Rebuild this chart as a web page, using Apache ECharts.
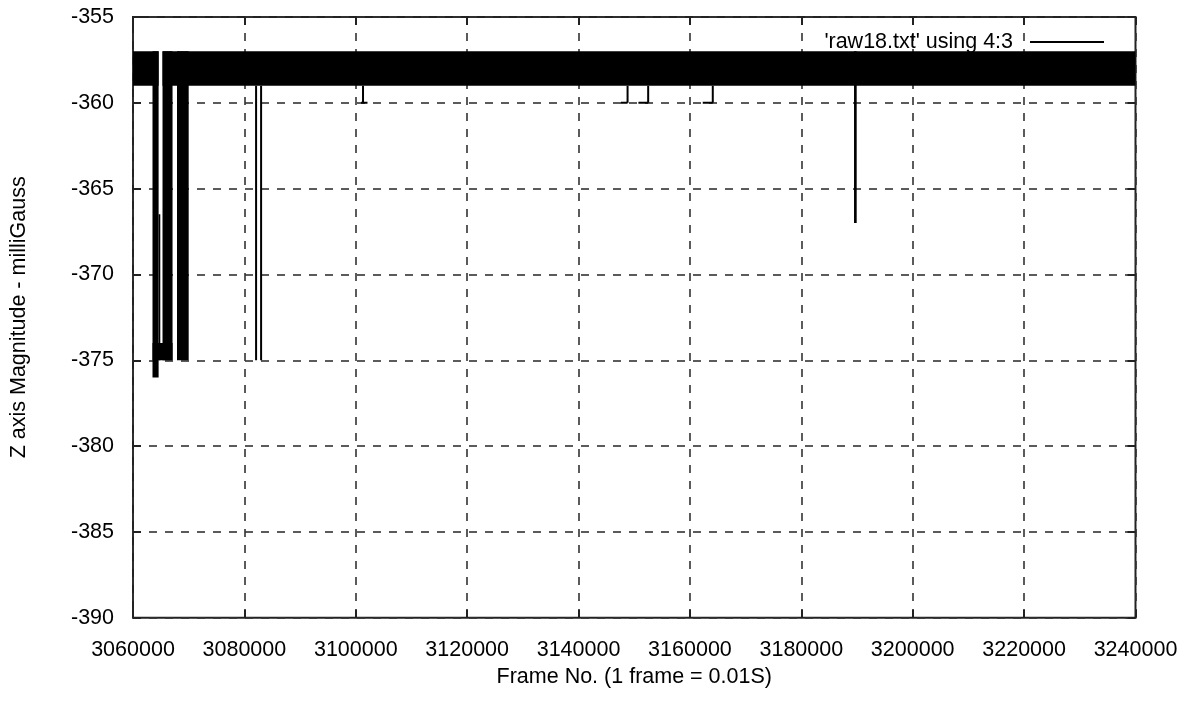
<!DOCTYPE html>
<html>
<head>
<meta charset="utf-8">
<script src="https://cdn.jsdelivr.net/npm/echarts@6/dist/echarts.min.js"></script>
<style>
html,body{margin:0;padding:0;background:#fff;}
#chart{width:1185px;height:711px;}
</style>
</head>
<body>
<div id="chart"></div>
<script>
// ---- data ----
const seriesName = "'raw18.txt' using 4:3";
const xTitle = "Frame No. (1 frame = 0.01S)";
const yTitle = "Z axis Magnitude - milliGauss";
const xTicks = [3060000, 3080000, 3100000, 3120000, 3140000, 3160000, 3180000, 3200000, 3220000, 3240000];
const yTicks = [-390, -385, -380, -375, -370, -365, -360, -355];

// dense oscillation envelopes: frame range and value range the trace fills
const envStart = [3060000, 3065300, 3063500, 3064600, 3063500, 3065300, 3067900, 3189460];
const envEnd   = [3064600, 3240000, 3064600, 3064900, 3067100, 3067100, 3070000, 3189940];
const envHigh  = [-357,    -357,    -357,    -366.5,  -374,    -357,    -357,    -357];
const envLow   = [-359,    -359,    -376,    -375,    -375,    -375,    -375,    -367];

// isolated trace segments (spikes and short flats)
const segX0 = [3082100, 3083000, 3101300, 3100950, 3148800, 3147600, 3152500, 3150750, 3164100, 3162300];
const segY0 = [-359,    -359,    -359,    -360,    -359,    -360,    -359,    -360,    -359,    -360];
const segX1 = [3082100, 3083000, 3101300, 3102100, 3148800, 3148800, 3152500, 3152500, 3164100, 3164100];
const segY1 = [-375,    -375,    -360,    -360,    -360,    -360,    -360,    -360,    -360,    -360];

// ---- build options ----
const envData = envStart.map((s, i) => [s, envEnd[i], envHigh[i], envLow[i]]);
const segData = segX0.map((x, i) => [x, segY0[i], segX1[i], segY1[i]]);

const xMin = xTicks[0], xMax = xTicks[xTicks.length - 1];
const yMin = yTicks[0], yMax = yTicks[yTicks.length - 1];
const xStep = xTicks[1] - xTicks[0];
const yStep = yTicks[1] - yTicks[0];

const FONT = 'Liberation Sans, Arial, sans-serif';
const FS = 21.5;
const INK = '#000';
const GRIDC = '#333';

const chart = echarts.init(document.getElementById('chart'), null, {renderer: 'canvas'});

const baseX = {
  type: 'value', min: xMin, max: xMax, interval: xStep
};
const baseY = {
  type: 'value', min: yMin, max: yMax, interval: yStep
};

chart.setOption({
  animation: false,
  backgroundColor: '#fff',
  grid: {
    left: 131, top: 17, right: 49.5, bottom: 93.3,
    show: true, borderColor: '#222', borderWidth: 2, backgroundColor: 'transparent'
  },
  legend: {
    show: true,
    data: [seriesName],
    right: 81, top: 31, padding: 0,
    align: 'right',
    icon: 'rect', itemWidth: 74, itemHeight: 2,
    itemStyle: {color: INK},
    formatter: n => n + '  ',
    textStyle: {fontFamily: FONT, fontSize: FS, color: INK}
  },
  xAxis: [
    Object.assign({}, baseX, {
      position: 'bottom',
      name: xTitle, nameLocation: 'middle', nameGap: 47,
      nameTextStyle: {fontFamily: FONT, fontSize: FS, color: INK},
      axisLine: {show: false},
      axisTick: {show: true, inside: true, length: 8, lineStyle: {color: '#222', width: 2}},
      axisLabel: {show: true, margin: 21, fontFamily: FONT, fontSize: FS, color: INK,
                  formatter: v => String(v)},
      splitLine: {show: true, lineStyle: {color: GRIDC, width: 1.6, type: [8, 8]}}
    }),
    Object.assign({}, baseX, {
      position: 'top',
      axisLine: {show: false},
      axisTick: {show: true, inside: true, length: 8, lineStyle: {color: '#222', width: 2}},
      axisLabel: {show: false},
      splitLine: {show: false}
    })
  ],
  yAxis: [
    Object.assign({}, baseY, {
      position: 'left',
      name: yTitle, nameLocation: 'middle', nameGap: 103,
      nameTextStyle: {fontFamily: FONT, fontSize: FS, color: INK},
      axisLine: {show: false},
      axisTick: {show: true, inside: true, length: 8, lineStyle: {color: '#222', width: 2}},
      axisLabel: {show: true, margin: 19, fontFamily: FONT, fontSize: FS, color: INK,
                  formatter: v => String(v)},
      splitLine: {show: true, lineStyle: {color: GRIDC, width: 1.6, type: [8, 8]}}
    }),
    Object.assign({}, baseY, {
      position: 'right',
      axisLine: {show: false},
      axisTick: {show: true, inside: true, length: 8, lineStyle: {color: '#222', width: 2}},
      axisLabel: {show: false},
      splitLine: {show: false}
    })
  ],
  series: [
    {
      name: seriesName,
      type: 'custom',
      xAxisIndex: 0, yAxisIndex: 0,
      clip: true,
      itemStyle: {color: INK},
      encode: {x: [0, 1], y: [2, 3]},
      data: envData,
      renderItem: function (params, api) {
        const p0 = api.coord([api.value(0), api.value(2)]);
        const p1 = api.coord([api.value(1), api.value(3)]);
        const x = Math.min(p0[0], p1[0]);
        const w = Math.max(1.5, Math.abs(p1[0] - p0[0]));
        const y = Math.min(p0[1], p1[1]);
        const h = Math.abs(p1[1] - p0[1]);
        return {
          type: 'rect',
          shape: {x: x, y: y, width: w, height: h},
          style: {fill: INK}
        };
      }
    },
    {
      name: seriesName,
      type: 'custom',
      xAxisIndex: 0, yAxisIndex: 0,
      clip: true,
      itemStyle: {color: INK},
      encode: {x: [0, 2], y: [1, 3]},
      data: segData,
      renderItem: function (params, api) {
        const p0 = api.coord([api.value(0), api.value(1)]);
        const p1 = api.coord([api.value(2), api.value(3)]);
        return {
          type: 'line',
          shape: {x1: p0[0], y1: p0[1], x2: p1[0], y2: p1[1]},
          style: {stroke: INK, lineWidth: 2, fill: null}
        };
      }
    }
  ]
});
</script>
</body>
</html>
